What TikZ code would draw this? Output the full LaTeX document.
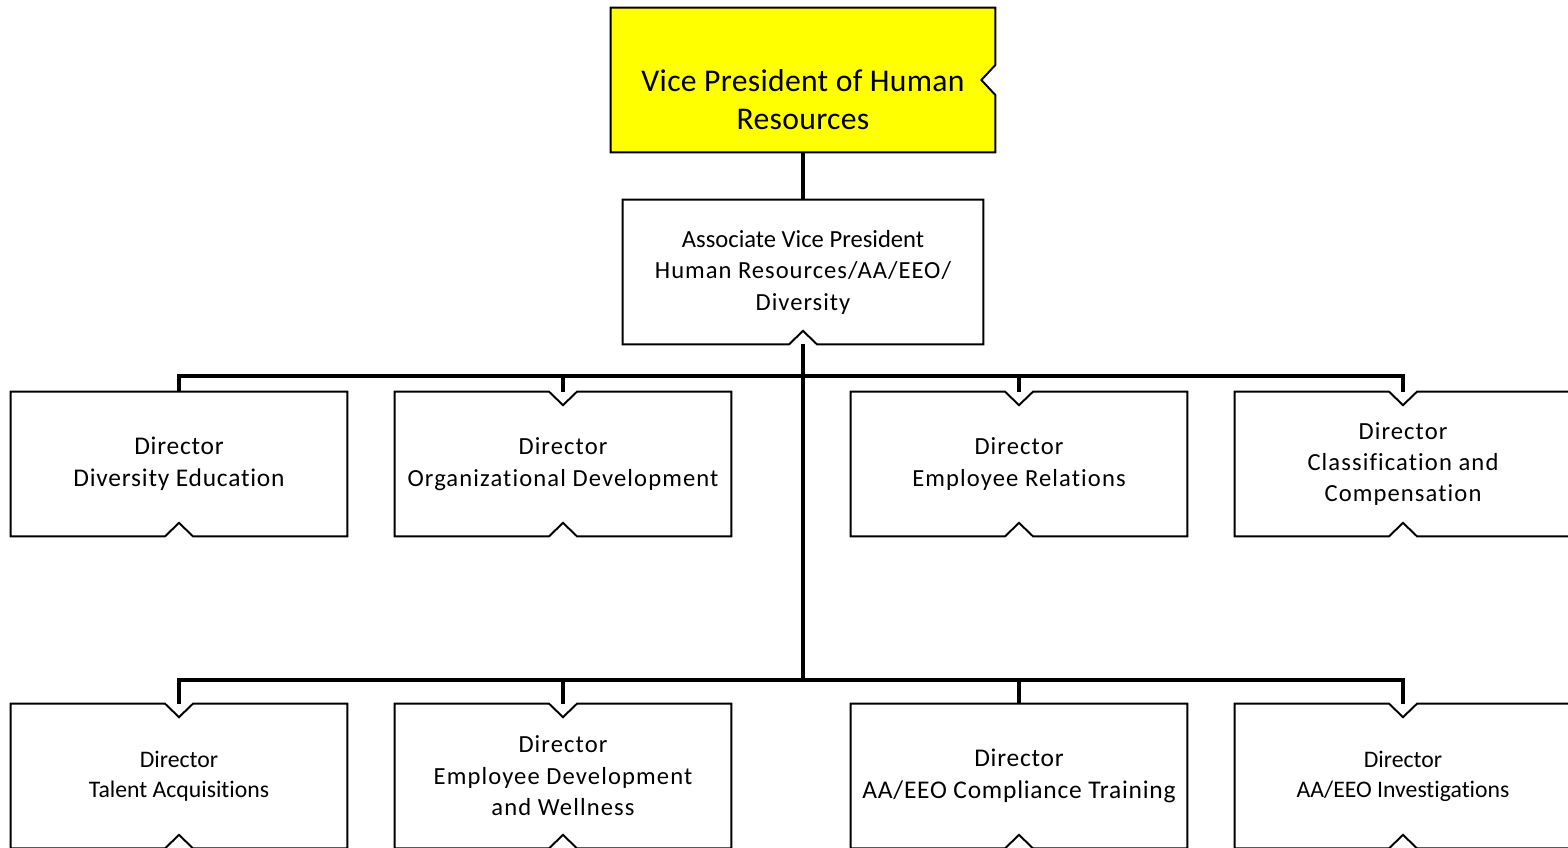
\documentclass[tikz,border=0pt]{standalone}
\usepackage{fontspec}
\setmainfont{Carlito}[Ligatures=NoCommon]
\usetikzlibrary{positioning}
\tikzset{>=latex}
\definecolor{vpyellow}{RGB}{255,255,0}
\tikzset{
  box/.style={minimum width=6.72cm,minimum height=2.88cm,inner sep=0pt,align=center},
  edge/.style={line width=1.1pt},
  conn/.style={line width=2.2pt},
  smalltxt/.style={font=\fontsize{14}{17.9}\selectfont\addfontfeatures{LetterSpace=4.5}},
  tighttxt/.style={font=\fontsize{13.5}{17}\selectfont},
  largetxt/.style={font=\fontsize{14.5}{18.2}\selectfont\addfontfeatures{LetterSpace=3}},
}

\begin{document}
\begin{tikzpicture}
\useasboundingbox (0,0) rectangle (31.36,-16.94);
\clip (0,0) rectangle (31.36,-16.94);
% top of the chart
\node[box,minimum width=7.68cm] (vp) at (16.06,-1.6) {};
\draw[edge,fill=vpyellow] (vp.north west) -- (vp.north east) -- ([yshift=3mm]vp.east) -- ([xshift=-2.8mm]vp.east) -- ([yshift=-3mm]vp.east) -- (vp.south east) -- (vp.south west) -- cycle;
\node[align=center,font=\fontsize{18}{21.5}\selectfont\addfontfeatures{LetterSpace=1}] (vpt) at (16.06,-2.0) {Vice President of Human\\Resources};
\node[box,minimum width=7.2cm,font=\fontsize{14}{17.9}\selectfont\addfontfeatures{LetterSpace=4}] (avp) at (16.06,-5.44) {{\addfontfeatures{LetterSpace=0}Associate Vice President}\\Human Resources/AA/EEO/\\Diversity};
% directors
\node[box,largetxt] (dd) at (3.58,-9.28) {Director\\Diversity Education};
\node[box,smalltxt] (od) at (11.26,-9.28) {Director\\Organizational Development};
\node[box,smalltxt] (er) at (20.38,-9.28) {Director\\Employee Relations};
\node[box,smalltxt] (cc) at (28.06,-9.28) {Director\\Classification and\\Compensation};
\node[box,tighttxt] (ta) at (3.58,-15.52) {Director\\Talent Acquisitions};
\node[box,smalltxt] (ed) at (11.26,-15.52) {Director\\Employee Development\\and Wellness};
\node[box,largetxt] (ct) at (20.38,-15.52) {Director\\AA/EEO Compliance Training};
\node[box,tighttxt] (ai) at (28.06,-15.52) {Director\\AA/EEO Investigations};
% outlines
\foreach \n in {avp,dd,ct}
  \draw[edge] (\n.south west) -- ([xshift=-2.8mm]\n.south) -- ([yshift=2.7mm]\n.south) -- ([xshift=2.8mm]\n.south) -- (\n.south east) -- (\n.north east) -- (\n.north west) -- cycle;
\foreach \n in {od,er,cc,ta,ed,ai}
  \draw[edge] (\n.south west) -- ([xshift=-2.8mm]\n.south) -- ([yshift=2.7mm]\n.south) -- ([xshift=2.8mm]\n.south) -- (\n.south east) -- (\n.north east) -- ([xshift=2.8mm]\n.north) -- ([yshift=-2.7mm]\n.north) -- ([xshift=-2.8mm]\n.north) -- (\n.north west) -- cycle;
% connectors
\coordinate (b1) at (16.06,-7.52);
\coordinate (b2) at (16.06,-13.6);
\draw[conn] (vp.south) -- (avp.north);
\draw[conn] (avp.south) -- (b2);
\draw[conn] (dd.north) -- (dd.north |- b1) -- (cc.north |- b1) -- (cc.north);
\draw[conn] (od.north) -- (od.north |- b1);
\draw[conn] (er.north) -- (er.north |- b1);
\draw[conn] (ta.north) -- (ta.north |- b2) -- (ai.north |- b2) -- (ai.north);
\draw[conn] (ed.north) -- (ed.north |- b2);
\draw[conn] (ct.north) -- (ct.north |- b2);
\end{tikzpicture}
\end{document}
